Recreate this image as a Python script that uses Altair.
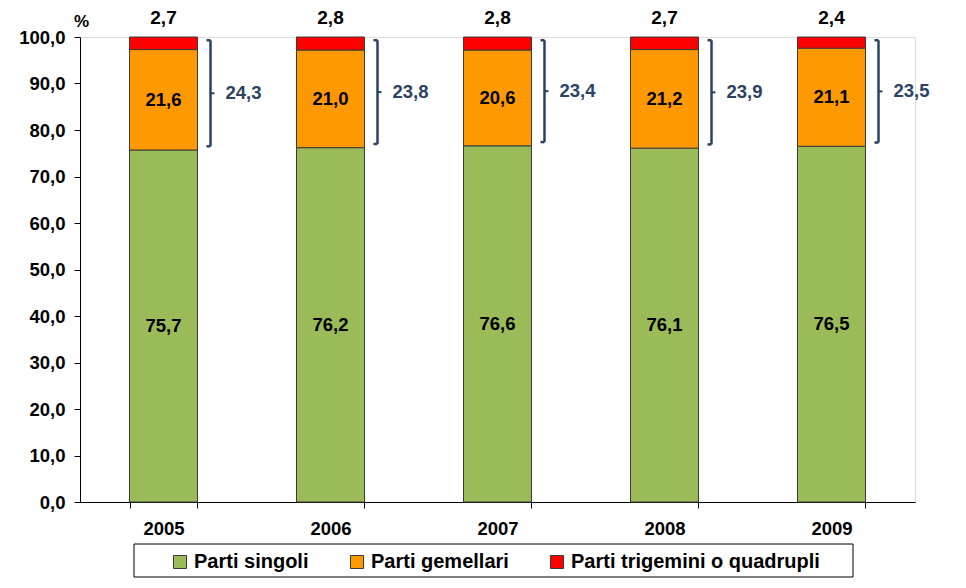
import altair as alt
import pandas as pd

years = ["2005", "2006", "2007", "2008", "2009"]
singoli = [75.7, 76.2, 76.6, 76.1, 76.5]
gemellari = [21.6, 21.0, 20.6, 21.2, 21.1]
trigemini = [2.7, 2.8, 2.8, 2.7, 2.4]
multipli = [24.3, 23.8, 23.4, 23.9, 23.5]
series = ["Parti singoli", "Parti gemellari", "Parti trigemini o quadrupli"]
colors = ["#9BBB59", "#FF9900", "#FF0000"]
y_ticks = [0, 10, 20, 30, 40, 50, 60, 70, 80, 90, 100]


def fmt(v):
    return f"{v:.1f}".replace(".", ",")


rows = []
for i, yr in enumerate(years):
    base = 0.0
    for s, vals in zip(series, [singoli, gemellari, trigemini]):
        v = vals[i]
        rows.append(dict(year=yr, serie=s, y0=base, y1=base + v,
                         mid=base + v / 2, label=fmt(v)))
        base += v
df = pd.DataFrame(rows)

br = pd.DataFrame(dict(
    year=years,
    top=[s + g + t - 0.7 for s, g, t in zip(singoli, gemellari, trigemini)],
    bot=[s + 0.8 for s in singoli],
    label=[fmt(v) for v in multipli],
))
br["mid"] = (br["top"] + br["bot"]) / 2

FONT = "Liberation Sans"
NAVY = "#2B4263"

xenc = alt.X(
    "year:N", title=None,
    scale=alt.Scale(paddingInner=0.593, paddingOuter=0.2965),
    axis=alt.Axis(tickBand="extent", labelFont=FONT, labelFontSize=18.5,
                  labelFontWeight="bold", labelColor="black", labelPadding=11,
                  tickSize=6, tickColor="black", domainColor="black",
                  labelAngle=0),
)


def yenc(field):
    return alt.Y(
        field, title="%",
        scale=alt.Scale(domain=[0, 100], nice=False),
        axis=alt.Axis(values=y_ticks,
                      labelExpr="replace(format(datum.value, '.1f'), '.', ',')",
                      labelFont=FONT, labelFontSize=18.5, labelFontWeight="bold",
                      labelColor="black", labelPadding=9, tickSize=6,
                      tickColor="black", domainColor="black", grid=False,
                      titleAngle=0, titleX=1, titleY=-16, titleAlign="center",
                      titleBaseline="middle", titleFont=FONT, titleFontSize=17,
                      titleFontWeight="bold", titleColor="black"),
    )


bars = alt.Chart(df).mark_bar(stroke="#3a3a3a", strokeWidth=1).encode(
    x=xenc,
    y=yenc("y0:Q"),
    y2="y1:Q",
    color=alt.Color(
        "serie:N",
        scale=alt.Scale(domain=series, range=colors),
        legend=alt.Legend(
            title=None, orient="none", direction="horizontal",
            legendX=90, legendY=515, padding=0,
            symbolType="square", symbolSize=169,
            symbolStrokeColor="#3a3a3a", symbolStrokeWidth=1,
            labelFont=FONT, labelFontSize=20, labelFontWeight="bold",
            labelColor="black", labelOffset=4, columnPadding=38,
            labelLimit=400,
        ),
    ),
)

inner = alt.Chart(df).transform_filter(
    alt.datum.serie != series[2]
).mark_text(font=FONT, fontSize=18.5, fontWeight="bold", color="black",
            baseline="middle").encode(
    x=xenc, y=yenc("mid:Q"), text="label:N"
)

top = alt.Chart(df).transform_filter(
    alt.datum.serie == series[2]
).mark_text(font=FONT, fontSize=19, fontWeight="bold", color="black",
            baseline="middle", dy=-19).encode(
    x=xenc, y=yenc("y1:Q"), text="label:N"
)

vline = alt.Chart(br).mark_rule(color=NAVY, strokeWidth=2.5, xOffset=47).encode(
    x=xenc, y=yenc("top:Q"), y2="bot:Q"
)
hook_top = alt.Chart(br).mark_rule(color=NAVY, strokeWidth=2.5,
                                   xOffset=43, x2Offset=47).encode(
    x=xenc, x2="year:N", y=yenc("top:Q")
)
hook_bot = alt.Chart(br).mark_rule(color=NAVY, strokeWidth=2.5,
                                   xOffset=43, x2Offset=47).encode(
    x=xenc, x2="year:N", y=yenc("bot:Q")
)
hook_mid = alt.Chart(br).mark_rule(color=NAVY, strokeWidth=2,
                                   xOffset=47, x2Offset=51).encode(
    x=xenc, x2="year:N", y=yenc("mid:Q")
)
blabel = alt.Chart(br).mark_text(font=FONT, fontSize=18.5, fontWeight="bold",
                                 color=NAVY, align="left", baseline="middle",
                                 xOffset=62).encode(
    x=xenc, y=yenc("mid:Q"), text="label:N"
)

box = alt.Chart(pd.DataFrame({"a": [0]})).mark_rect(
    fill="white", stroke="black", strokeWidth=1
).encode(
    x=alt.value(54), x2=alt.value(773), y=alt.value(507), y2=alt.value(540)
)

chart = alt.layer(
    box, bars, inner, top, vline, hook_top, hook_bot, hook_mid, blabel
).properties(
    width=835, height=465,
    autosize=alt.AutoSizeParams(type="none"),
    padding={"left": 80, "top": 37, "right": 51, "bottom": 86},
).configure_view(stroke=None).configure(background="white")

chart.save("out.html", embed_options={"renderer": "svg", "actions": False})
